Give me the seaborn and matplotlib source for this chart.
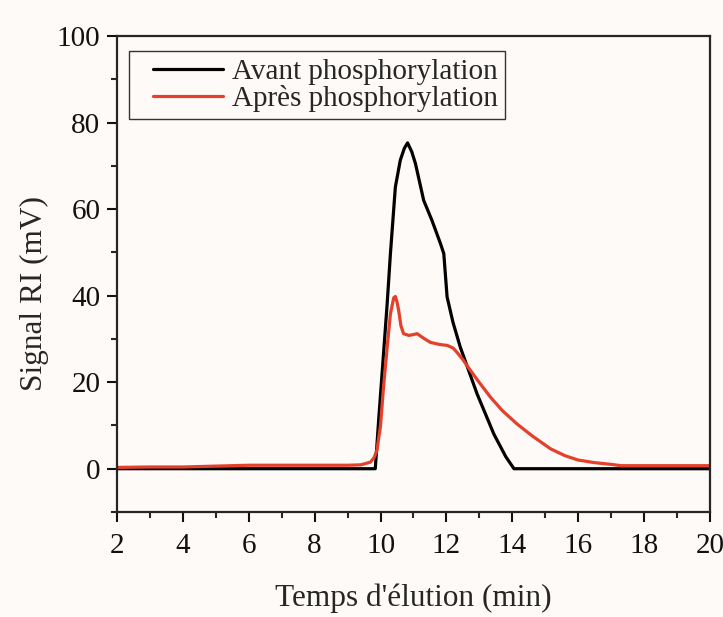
import matplotlib
matplotlib.use("Agg")
import matplotlib.pyplot as plt
import seaborn as sns
import pandas as pd
from matplotlib.ticker import MultipleLocator
from matplotlib.legend_handler import HandlerLine2D
from matplotlib.lines import Line2D

# Data
avant_t = [2.0, 4.0, 6.0, 8.0, 9.5, 9.84, 9.95, 10.09, 10.2, 10.30, 10.45, 10.60, 10.72, 10.82,
           10.95, 11.06, 11.31, 11.56, 11.82, 11.92, 12.02, 12.2, 12.42, 12.93, 13.44, 13.8,
           14.05, 15.0, 17.0, 20.0]
avant_s = [0.0, 0.0, 0.0, 0.0, 0.0, 0.0, 12.0, 26.5, 38.0, 49.7, 65.1, 71.3, 74.0, 75.3,
           73.2, 70.5, 62.0, 57.4, 52.0, 49.7, 39.7, 33.8, 28.1, 17.3, 8.0, 2.8,
           0.0, 0.0, 0.0, 0.0]

apres_t = [2.0, 3.0, 4.0, 5.0, 6.0, 7.0, 8.0, 9.0, 9.4, 9.69, 9.8, 9.89, 10.0, 10.09, 10.2,
           10.30, 10.40, 10.45, 10.50, 10.55, 10.62, 10.70, 10.86, 11.0, 11.11, 11.3, 11.51,
           11.8, 12.02, 12.2, 12.32, 12.5, 12.73, 13.0, 13.34, 13.7, 14.15, 14.6, 15.16,
           15.6, 16.0, 16.5, 17.0, 17.3, 18.0, 19.0, 20.0]
apres_s = [0.3, 0.4, 0.4, 0.6, 0.8, 0.8, 0.8, 0.8, 0.9, 1.5, 2.5, 4.2, 10.0, 18.8, 28.0,
           35.8, 39.5, 39.8, 38.5, 36.6, 33.0, 31.2, 30.8, 31.0, 31.2, 30.2, 29.2,
           28.7, 28.5, 27.9, 26.9, 25.2, 22.7, 19.9, 16.5, 13.4, 10.3, 7.6, 4.6,
           3.0, 2.0, 1.4, 1.0, 0.7, 0.7, 0.7, 0.7]

labels = ["Avant phosphorylation", "Après phosphorylation"]
colors = ["#000000", "#e4402c"]

df = pd.concat([
    pd.DataFrame({"t": avant_t, "s": avant_s, "serie": labels[0]}),
    pd.DataFrame({"t": apres_t, "s": apres_s, "serie": labels[1]}),
], ignore_index=True)

sns.set_style("ticks")
plt.rcParams["font.family"] = ["Liberation Serif", "DejaVu Serif"]

bg = "#fdfaf7"
fig = plt.figure(figsize=(7.23, 6.17), dpi=100, facecolor=bg)
ax = fig.add_axes([0.1618, 0.1702, 0.982 - 0.1618, 0.9417 - 0.1702])
ax.set_facecolor(bg)

sns.lineplot(data=df, x="t", y="s", hue="serie", palette=dict(zip(labels, colors)),
             hue_order=labels, linewidth=2.3, ax=ax, sort=False, estimator=None)

ax.set_xlim(2, 20)
ax.set_ylim(-10, 100)
ax.xaxis.set_major_locator(MultipleLocator(2))
ax.xaxis.set_minor_locator(MultipleLocator(1))
ax.yaxis.set_major_locator(MultipleLocator(20))
ax.yaxis.set_minor_locator(MultipleLocator(10))
ax.tick_params(which="major", direction="out", length=7, width=1.5, labelsize=21, pad=5,
               colors="#111111")
ax.tick_params(axis="x", which="major", pad=8)
ax.tick_params(which="minor", direction="out", length=4, width=1.5)
for sp in ax.spines.values():
    sp.set_linewidth(1.6)
    sp.set_visible(True)

ax.set_xlabel("Temps d'élution (min)", fontsize=22.5, labelpad=17.5)
ax.set_ylabel("Signal RI (mV)", fontsize=22.5)
ax.yaxis.set_label_coords(-0.115, 0.46)

handles, labs = ax.get_legend_handles_labels()
leg = ax.legend(handles, labs, loc="upper left", bbox_to_anchor=(0.02, 0.968), borderaxespad=0,
                fontsize=21, frameon=True, fancybox=False, edgecolor="#333333", framealpha=1,
                handlelength=2.97, borderpad=0.25, labelspacing=0.0, handletextpad=0.3,
                handler_map={Line2D: HandlerLine2D(xpad=0.57)})
leg.get_frame().set_linewidth(1.0)
leg.get_frame().set_facecolor(bg)

fig.savefig("out.png", dpi=100, facecolor=bg)
